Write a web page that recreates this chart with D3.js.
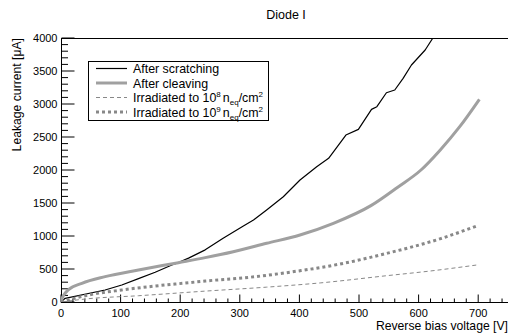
<!DOCTYPE html>
<html>
<head>
<meta charset="utf-8">
<script src="https://cdn.jsdelivr.net/npm/d3@7"></script>
<style>
  body { margin: 0; background: #fff; }
  svg { display: block; }
</style>
</head>
<body>
<div id="chart"></div>
<script>
// Series (voltage in V, current in uA)
const scratchV = [0, 7, 74, 102, 130, 158, 186, 197, 214, 242, 272, 306, 323, 345, 373, 401, 429, 449, 478, 499, 521, 530, 546, 560, 574, 588, 611, 624];
const scratchI = [0, 56, 182, 258, 355, 450, 560, 596, 665, 790, 965, 1151, 1242, 1394, 1595, 1848, 2050, 2177, 2530, 2616, 2919, 2959, 3171, 3212, 3389, 3591, 3818, 4000];

const cleaveV = [0, 2, 5, 12, 35, 74, 130, 197, 242, 289, 345, 401, 457, 520, 565, 604, 636, 669, 702];
const cleaveI = [0, 60, 110, 182, 283, 384, 485, 596, 672, 762, 889, 1015, 1192, 1460, 1740, 2000, 2300, 2656, 3071];

const irr8V = [0, 46, 130, 242, 345, 436, 548, 620, 697];
const irr8I = [0, 50, 95, 165, 225, 290, 400, 470, 560];

const irr9V = [0, 46, 102, 158, 214, 242, 317, 401, 468, 548, 637, 697];
const irr9I = [0, 106, 182, 242, 292, 318, 375, 474, 575, 740, 960, 1150];

const xTicks = [0, 100, 200, 300, 400, 500, 600, 700];
const yTicks = [0, 500, 1000, 1500, 2000, 2500, 3000, 3500, 4000];

const W = 508, H = 333;
const margin = { left: 61, right: 508, top: 38, bottom: 302 };
const font = "'Liberation Sans', Arial, Helvetica, sans-serif";

const x = d3.scaleLinear().domain([0, 750]).range([margin.left, margin.right]);
const y = d3.scaleLinear().domain([0, 4000]).range([margin.bottom, margin.top]);

const svg = d3.select("#chart").append("svg")
    .attr("width", W)
    .attr("height", H)
    .attr("font-family", font);

// top frame line
svg.append("line").attr("x1", margin.left).attr("x2", margin.right)
    .attr("y1", margin.top + 0.5).attr("y2", margin.top + 0.5)
    .attr("stroke", "#000").attr("stroke-width", 1);

// x axis, ROOT style ticks pointing inward
const xAxis = svg.append("g").attr("transform", `translate(0,${margin.bottom + 0.5})`);
xAxis.append("line").attr("x1", margin.left).attr("x2", margin.right).attr("stroke", "#000");
xAxis.selectAll(".minor").data(d3.range(0, 751, 20).filter(v => v % 100 !== 0))
    .join("line").attr("class", "minor")
    .attr("x1", d => x(d)).attr("x2", d => x(d))
    .attr("y1", 0).attr("y2", -4)
    .attr("stroke", "#000");
xAxis.selectAll(".major").data(xTicks)
    .join("line").attr("class", "major")
    .attr("x1", d => x(d)).attr("x2", d => x(d))
    .attr("y1", 0).attr("y2", -8)
    .attr("stroke", "#000");
xAxis.selectAll("text").data(xTicks)
    .join("text")
    .attr("x", d => x(d)).attr("y", 14)
    .attr("text-anchor", "middle")
    .attr("font-size", 11)
    .text(d => d);

// y axis
const yAxis = svg.append("g").attr("transform", `translate(${margin.left + 0.5},0)`);
yAxis.append("line").attr("y1", margin.top).attr("y2", margin.bottom).attr("stroke", "#000");
yAxis.selectAll(".minor").data(d3.range(0, 4001, 100).filter(v => v % 500 !== 0))
    .join("line").attr("class", "minor")
    .attr("y1", d => y(d)).attr("y2", d => y(d))
    .attr("x1", 0).attr("x2", 6.5)
    .attr("stroke", "#000");
yAxis.selectAll(".major").data(yTicks)
    .join("line").attr("class", "major")
    .attr("y1", d => y(d)).attr("y2", d => y(d))
    .attr("x1", 0).attr("x2", 13)
    .attr("stroke", "#000");
yAxis.selectAll("text").data(yTicks)
    .join("text")
    .attr("x", -4).attr("y", d => y(d) + 4)
    .attr("text-anchor", "end")
    .attr("font-size", 11)
    .text(d => d);

// titles
svg.append("text").attr("x", 286).attr("y", 19)
    .attr("text-anchor", "middle").attr("font-size", 12.5)
    .text("Diode I");
svg.append("text").attr("x", margin.right).attr("y", 330)
    .attr("text-anchor", "end").attr("font-size", 12.2)
    .text("Reverse bias voltage [V]");
svg.append("text")
    .attr("transform", `translate(21,${margin.top}) rotate(-90)`)
    .attr("text-anchor", "end").attr("font-size", 12.2)
    .text("Leakage current [\u03bcA]");

// curves
const series = [
    { name: "scratch", v: scratchV, i: scratchI, color: "#000", width: 1.2, dash: null, curve: d3.curveLinear },
    { name: "cleave", v: cleaveV, i: cleaveI, color: "#a0a0a0", width: 3, dash: null, curve: d3.curveMonotoneX },
    { name: "irr8", v: irr8V, i: irr8I, color: "#888", width: 1, dash: "4,3", curve: d3.curveMonotoneX },
    { name: "irr9", v: irr9V, i: irr9I, color: "#888", width: 3, dash: "3,3", curve: d3.curveMonotoneX }
];

svg.append("clipPath").attr("id", "plotclip")
    .append("rect").attr("x", margin.left).attr("y", margin.top)
    .attr("width", margin.right - margin.left).attr("height", margin.bottom - margin.top);

svg.append("g").attr("clip-path", "url(#plotclip)")
    .selectAll("path").data(series)
    .join("path")
    .attr("d", s => d3.line().x(d => x(d[0])).y(d => y(d[1])).curve(s.curve)(s.v.map((v, k) => [v, s.i[k]])))
    .attr("fill", "none")
    .attr("stroke", s => s.color)
    .attr("stroke-width", s => s.width)
    .attr("stroke-linejoin", "round")
    .attr("stroke-dasharray", s => s.dash);

// legend
const legend = svg.append("g");
legend.append("rect").attr("x", 88.5).attr("y", 61.5).attr("width", 180).attr("height", 59)
    .attr("fill", "#fff").attr("stroke", "#000");
const rows = [68.5, 83, 97.5, 112];
series.forEach((s, k) => {
    legend.append("line")
        .attr("x1", 96).attr("x2", 127).attr("y1", rows[k]).attr("y2", rows[k])
        .attr("stroke", s.color).attr("stroke-width", s.width)
        .attr("stroke-dasharray", s.dash);
});
const labels = legend.append("g").attr("font-size", 12.4);
labels.append("text").attr("x", 133).attr("y", rows[0] + 4.5).text("After scratching");
labels.append("text").attr("x", 133).attr("y", rows[1] + 4.5).text("After cleaving");
[["8", rows[2]], ["9", rows[3]]].forEach(([p, ry]) => {
    const t = labels.append("text").attr("x", 133).attr("y", ry + 4.5);
    t.append("tspan").text("Irradiated to 10");
    t.append("tspan").attr("dy", -5).attr("font-size", 8).text(p);
    t.append("tspan").attr("dy", 5).attr("dx", 2).text("n");
    t.append("tspan").attr("dy", 3).attr("font-size", 8).text("eq");
    t.append("tspan").attr("dy", -3).text("/cm");
    t.append("tspan").attr("dy", -5).attr("font-size", 8).text("2");
});
</script>
</body>
</html>
